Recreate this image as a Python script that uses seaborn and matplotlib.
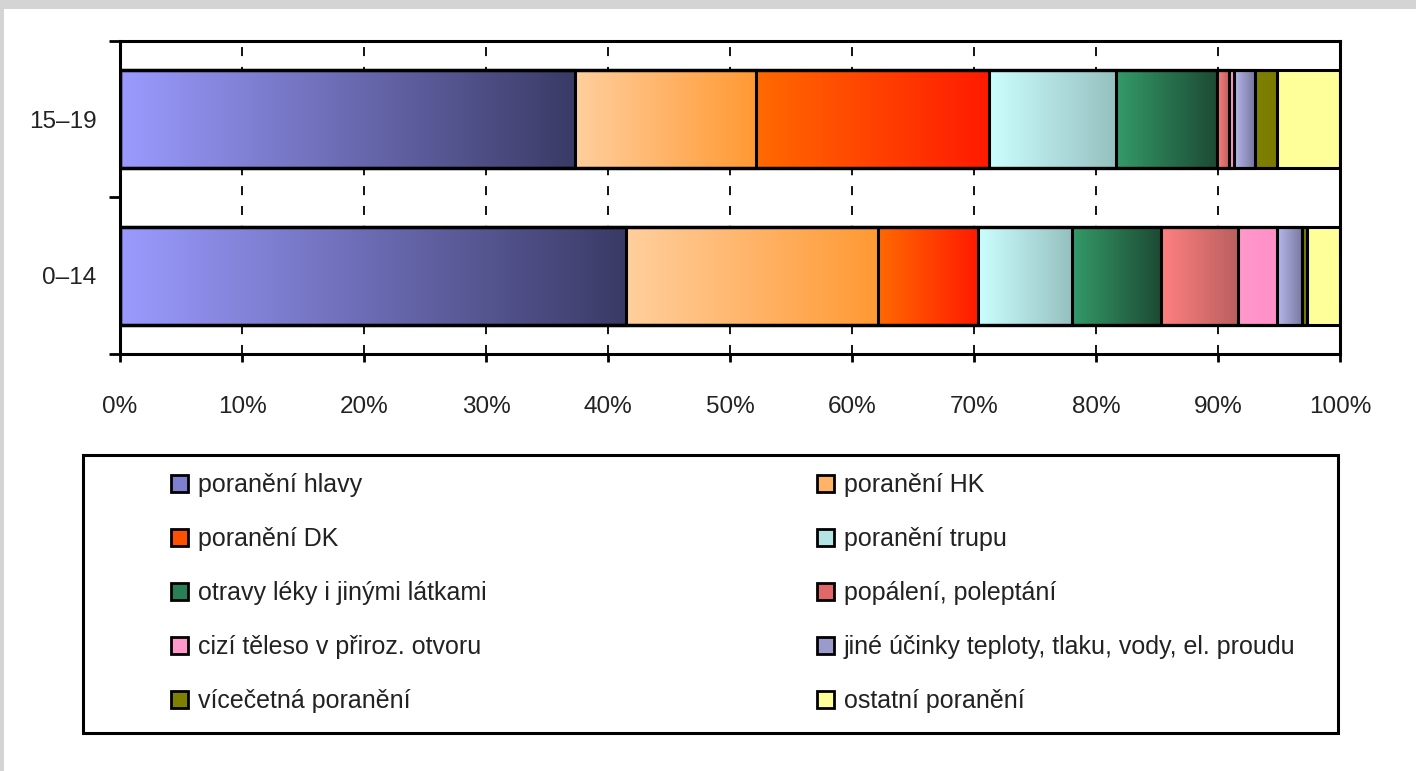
import numpy as np
import pandas as pd
import matplotlib
matplotlib.use('Agg')
import matplotlib.pyplot as plt
import seaborn as sns
from matplotlib.colors import LinearSegmentedColormap
from matplotlib.patches import Patch, Rectangle

# Data (shares in %)
ages = ['15–19', '0–14']
categories = ['poranění hlavy', 'poranění HK', 'poranění DK', 'poranění trupu',
              'otravy léky i jinými látkami', 'popálení, poleptání',
              'cizí těleso v přiroz. otvoru', 'jiné účinky teploty, tlaku, vody, el. proudu',
              'vícečetná poranění', 'ostatní poranění']
vals_15_19 = [37.3, 14.8, 19.1, 10.4, 8.3, 1.0, 0.4, 1.7, 1.8, 5.2]
vals_0_14 = [41.5, 20.6, 8.2, 7.7, 7.3, 6.3, 3.2, 2.1, 0.4, 2.7]
xticks = list(range(0, 101, 10))

# Colours: gradient start / end per segment, flat colour for legend
grad_start = ['#9b9bff', '#ffcf9e', '#ff6a00', '#ccffff', '#349a68',
              '#ff8080', '#ff99cc', '#b8b8ee', '#808000', '#ffff99']
grad_end = ['#3a3a66', '#ff9933', '#ff1a00', '#96c0c0', '#1c4a33',
            '#bb5f5f', '#ff8fc8', '#77779e', '#7a7a00', '#ffff99']
legend_colors = ['#7f7fd0', '#ffb366', '#ff5000', '#b5e4e4', '#2a8055',
                 '#e06868', '#ff99cc', '#9a9acc', '#808000', '#ffff99']

# Long table with cumulative values
rows = []
for age, vals in zip(ages, [vals_15_19, vals_0_14]):
    cum = np.cumsum(vals)
    for cat, v, c in zip(categories, vals, cum):
        rows.append(dict(age=age, category=cat, value=v, cum=c))
df = pd.DataFrame(rows)

sns.set_style('ticks')
plt.rcParams['font.family'] = ['Liberation Sans', 'DejaVu Sans']

W, H = 1416, 771
fig = plt.figure(figsize=(W / 100, H / 100), dpi=100, facecolor='#d4d4d4')
fig.add_artist(Rectangle((4 / W, 0), 1, 1 - 9 / H, transform=fig.transFigure,
                         facecolor='white', edgecolor='none', zorder=-1))
ax = fig.add_axes([120 / W, 1 - 354 / H, 1220 / W, 313 / H])

# Stacked bars: draw cumulative bars longest first, then fill each segment with a gradient
for i in reversed(range(len(categories))):
    cat = categories[i]
    sub = df[df['category'] == cat]
    n_before = len(ax.patches)
    sns.barplot(data=sub, x='cum', y='age', order=ages, orient='h', width=0.625,
                color=legend_colors[i], edgecolor='black', linewidth=2.2,
                errorbar=None, ax=ax, zorder=3)
    cmap = LinearSegmentedColormap.from_list(f'g{i}', [grad_start[i], grad_end[i]])
    for p in ax.patches[n_before:]:
        k = int(round(p.get_y() + p.get_height() / 2))
        row = sub[sub['age'] == ages[k]].iloc[0]
        left = row['cum'] - row['value']
        ax.imshow(np.linspace(0, 1, 256).reshape(1, -1), cmap=cmap, aspect='auto',
                  extent=[left, row['cum'], p.get_y() + p.get_height(), p.get_y()],
                  zorder=2, interpolation='bilinear')
        p.set_facecolor('none')

ax.set_xlim(0, 100)
ax.set_ylim(1.5, -0.5)
ax.set_xlabel('')
ax.set_ylabel('')
ax.set_axisbelow(True)
ax.grid(axis='x', color='black', linestyle=(0, (5, 6)), linewidth=1.3)
ax.grid(axis='y', visible=False)

ax.set_xticks(xticks)
ax.set_xticklabels([f'{t}%' for t in xticks])
ax.tick_params(axis='x', length=6, width=2, direction='out', pad=24,
               labelsize=17.5, colors='black', labelcolor='#222222')
ax.set_yticks([0, 1])
ax.set_yticklabels(ages)
ax.tick_params(axis='y', which='major', length=0, pad=17, labelsize=17.5,
               labelcolor='#222222')
ax.set_yticks([-0.5, 0.5, 1.5], minor=True)
ax.tick_params(axis='y', which='minor', length=8, width=2, direction='out', color='black')

for s in ax.spines.values():
    s.set_visible(True)
    s.set_color('black')
    s.set_linewidth(2.2)

# Legend: two columns, read row-wise, with an outer frame
handles = [Patch(facecolor=c, edgecolor='black', linewidth=2, label=l)
           for c, l in zip(legend_colors, categories)]
leg_kw = dict(loc='upper left', frameon=False, fontsize=18, labelspacing=1.2,
              handlelength=0.68, handleheight=0.68, handletextpad=0.4,
              borderpad=0, borderaxespad=0, labelcolor='#222222')
fig.legend(handles=handles[0::2], bbox_to_anchor=(171 / W, 1 - 473 / H), **leg_kw)
fig.legend(handles=handles[1::2], bbox_to_anchor=(817 / W, 1 - 473 / H), **leg_kw)
fig.add_artist(Rectangle((83 / W, 1 - 733 / H), 1255 / W, 278 / H, transform=fig.transFigure,
                         facecolor='none', edgecolor='black', linewidth=2.2))

fig.savefig('out.png', dpi=100, facecolor=fig.get_facecolor())
